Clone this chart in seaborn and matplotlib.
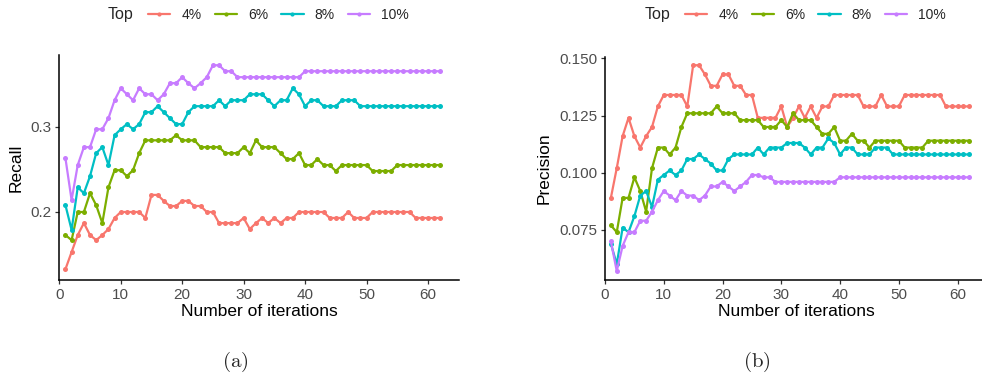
import numpy as np
import pandas as pd
import matplotlib
matplotlib.use("Agg")
import matplotlib.pyplot as plt
from matplotlib.lines import Line2D
import seaborn as sns

# ---------------- data ----------------
iterations = list(range(1, 63))
groups = ["4%", "6%", "8%", "10%"]
colors = ["#F8766D", "#7CAE00", "#00BFC4", "#C77CFF"]

recall_4 = [0.133, 0.153, 0.173, 0.187, 0.173, 0.167, 0.173, 0.180, 0.193, 0.200,
            0.200, 0.200, 0.200, 0.193, 0.220, 0.220, 0.213, 0.207, 0.207, 0.213,
            0.213, 0.207, 0.207, 0.200, 0.200, 0.187, 0.187, 0.187, 0.187, 0.193,
            0.180, 0.187, 0.193, 0.187, 0.193, 0.187, 0.193, 0.193, 0.200, 0.200,
            0.200, 0.200, 0.200, 0.193, 0.193, 0.193, 0.200, 0.193, 0.193, 0.193,
            0.200, 0.200, 0.200, 0.200, 0.200, 0.200, 0.200, 0.193, 0.193, 0.193,
            0.193, 0.193]
recall_6 = [0.173, 0.167, 0.200, 0.200, 0.222, 0.208, 0.187, 0.229, 0.249, 0.249,
            0.242, 0.249, 0.269, 0.284, 0.284, 0.284, 0.284, 0.284, 0.290, 0.284,
            0.284, 0.284, 0.276, 0.276, 0.276, 0.276, 0.269, 0.269, 0.269, 0.276,
            0.269, 0.284, 0.276, 0.276, 0.276, 0.269, 0.262, 0.262, 0.269, 0.255,
            0.255, 0.262, 0.255, 0.255, 0.248, 0.255, 0.255, 0.255, 0.255, 0.255,
            0.248, 0.248, 0.248, 0.248, 0.255, 0.255, 0.255, 0.255, 0.255, 0.255,
            0.255, 0.255]
recall_8 = [0.208, 0.179, 0.229, 0.222, 0.242, 0.269, 0.276, 0.255, 0.290, 0.297,
            0.303, 0.297, 0.303, 0.317, 0.317, 0.324, 0.317, 0.310, 0.303, 0.303,
            0.317, 0.324, 0.324, 0.324, 0.324, 0.331, 0.324, 0.331, 0.331, 0.331,
            0.338, 0.338, 0.338, 0.331, 0.324, 0.331, 0.331, 0.345, 0.338, 0.324,
            0.331, 0.331, 0.324, 0.324, 0.324, 0.331, 0.331, 0.331, 0.324, 0.324,
            0.324, 0.324, 0.324, 0.324, 0.324, 0.324, 0.324, 0.324, 0.324, 0.324,
            0.324, 0.324]
recall_10 = [0.263, 0.214, 0.255, 0.276, 0.276, 0.297, 0.297, 0.310, 0.331, 0.345,
             0.338, 0.331, 0.345, 0.338, 0.338, 0.331, 0.338, 0.351, 0.351, 0.358,
             0.351, 0.345, 0.351, 0.358, 0.372, 0.372, 0.365, 0.365, 0.358, 0.358,
             0.358, 0.358, 0.358, 0.358, 0.358, 0.358, 0.358, 0.358, 0.358, 0.365,
             0.365, 0.365, 0.365, 0.365, 0.365, 0.365, 0.365, 0.365, 0.365, 0.365,
             0.365, 0.365, 0.365, 0.365, 0.365, 0.365, 0.365, 0.365, 0.365, 0.365,
             0.365, 0.365]

precision_4 = [0.089, 0.102, 0.116, 0.124, 0.116, 0.111, 0.116, 0.120, 0.129, 0.134,
               0.134, 0.134, 0.134, 0.129, 0.147, 0.147, 0.143, 0.138, 0.138, 0.143,
               0.143, 0.138, 0.138, 0.134, 0.134, 0.124, 0.124, 0.124, 0.124, 0.129,
               0.120, 0.124, 0.129, 0.124, 0.129, 0.124, 0.129, 0.129, 0.134, 0.134,
               0.134, 0.134, 0.134, 0.129, 0.129, 0.129, 0.134, 0.129, 0.129, 0.129,
               0.134, 0.134, 0.134, 0.134, 0.134, 0.134, 0.134, 0.129, 0.129, 0.129,
               0.129, 0.129]
precision_6 = [0.077, 0.074, 0.089, 0.089, 0.098, 0.092, 0.083, 0.102, 0.111, 0.111,
               0.108, 0.111, 0.120, 0.126, 0.126, 0.126, 0.126, 0.126, 0.129, 0.126,
               0.126, 0.126, 0.123, 0.123, 0.123, 0.123, 0.120, 0.120, 0.120, 0.123,
               0.120, 0.126, 0.123, 0.123, 0.123, 0.120, 0.117, 0.117, 0.120, 0.114,
               0.114, 0.117, 0.114, 0.114, 0.111, 0.114, 0.114, 0.114, 0.114, 0.114,
               0.111, 0.111, 0.111, 0.111, 0.114, 0.114, 0.114, 0.114, 0.114, 0.114,
               0.114, 0.114]
precision_8 = [0.069, 0.060, 0.076, 0.074, 0.081, 0.090, 0.092, 0.085, 0.097, 0.099,
               0.101, 0.099, 0.101, 0.106, 0.106, 0.108, 0.106, 0.104, 0.101, 0.101,
               0.106, 0.108, 0.108, 0.108, 0.108, 0.111, 0.108, 0.111, 0.111, 0.111,
               0.113, 0.113, 0.113, 0.111, 0.108, 0.111, 0.111, 0.115, 0.113, 0.108,
               0.111, 0.111, 0.108, 0.108, 0.108, 0.111, 0.111, 0.111, 0.108, 0.108,
               0.108, 0.108, 0.108, 0.108, 0.108, 0.108, 0.108, 0.108, 0.108, 0.108,
               0.108, 0.108]
precision_10 = [0.070, 0.057, 0.068, 0.074, 0.074, 0.079, 0.079, 0.083, 0.088, 0.092,
                0.090, 0.088, 0.092, 0.090, 0.090, 0.088, 0.090, 0.094, 0.094, 0.096,
                0.094, 0.092, 0.094, 0.096, 0.099, 0.099, 0.098, 0.098, 0.096, 0.096,
                0.096, 0.096, 0.096, 0.096, 0.096, 0.096, 0.096, 0.096, 0.096, 0.098,
                0.098, 0.098, 0.098, 0.098, 0.098, 0.098, 0.098, 0.098, 0.098, 0.098,
                0.098, 0.098, 0.098, 0.098, 0.098, 0.098, 0.098, 0.098, 0.098, 0.098,
                0.098, 0.098]

x_ticks = [0, 10, 20, 30, 40, 50, 60]
recall_ticks = [0.2, 0.3]
recall_tick_labels = ["0.2", "0.3"]
precision_ticks = [0.075, 0.100, 0.125, 0.150]
precision_tick_labels = ["0.075", "0.100", "0.125", "0.150"]


def long_frame(series, name):
    rows = []
    for g, vals in zip(groups, series):
        for it, v in zip(iterations, vals):
            rows.append({"Iteration": it, name: v, "Top": g})
    return pd.DataFrame(rows)


df_recall = long_frame([recall_4, recall_6, recall_8, recall_10], "Recall")
df_prec = long_frame([precision_4, precision_6, precision_8, precision_10], "Precision")

# ---------------- style ----------------
sns.set_style("ticks")
plt.rcParams["font.family"] = ["Liberation Sans", "DejaVu Sans"]
plt.rcParams["mathtext.fontset"] = "cm"

W, H = 982, 380
fig = plt.figure(figsize=(W / 100, H / 100), dpi=100)
ax1 = fig.add_axes([59.3 / W, 100 / H, 399.4 / W, 225 / H])
ax2 = fig.add_axes([605 / W, 100 / H, 382 / W, 223 / H])

palette = dict(zip(groups, colors))
for ax, df, col in [(ax1, df_recall, "Recall"), (ax2, df_prec, "Precision")]:
    sns.lineplot(data=df, x="Iteration", y=col, hue="Top", hue_order=groups,
                 palette=palette, marker="o", markersize=3.6, markeredgewidth=0,
                 linewidth=1.6, errorbar=None, legend=False, ax=ax)
    ax.set_xlim(0, 65)
    ax.set_xticks(x_ticks)
    ax.set_xlabel("Number of iterations", fontsize=12.5, color="black", labelpad=1.5)
    ax.set_ylabel(col, fontsize=12.5, color="black")
    for s in ["top", "right"]:
        ax.spines[s].set_visible(False)
    for s in ["left", "bottom"]:
        ax.spines[s].set_color("black")
        ax.spines[s].set_linewidth(1.1)
    ax.tick_params(axis="both", length=3.2, width=0.9, color="#333333",
                   labelcolor="#4D4D4D", labelsize=11, pad=2.5)

ax1.set_ylim(0.1203, 0.384)
ax1.set_yticks(recall_ticks)
ax1.set_yticklabels(recall_tick_labels)
ax2.set_ylim(0.0531, 0.1506)
ax2.set_yticks(precision_ticks)
ax2.set_yticklabels(precision_tick_labels)

ax1.yaxis.set_label_coords((24 - 59.3) / 399.4, 0.5)
ax2.yaxis.set_label_coords((552 - 605) / 382, 0.5)

# legends
handles = [Line2D([], [], color=c, marker="o", markersize=3, markeredgewidth=0,
                  linewidth=1.6) for c in colors]
for title_x, handle_x in [(108, 148), (645, 685)]:
    fig.text(title_x / W, 1 - 15 / H, "Top", fontsize=11.5, ha="left", va="center")
    fig.legend(handles, groups, ncol=4, loc="center left",
               bbox_to_anchor=(handle_x / W, 1 - 15 / H), frameon=False,
               handlelength=1.6, handletextpad=0.8, columnspacing=0.95,
               borderpad=0, borderaxespad=0, fontsize=10)

fig.text(235 / W, 1 - 362 / H, r"$\mathrm{(a)}$", fontsize=15, ha="center", va="center")
fig.text(757 / W, 1 - 362 / H, r"$\mathrm{(b)}$", fontsize=15, ha="center", va="center")

fig.savefig("out.png", dpi=100)
